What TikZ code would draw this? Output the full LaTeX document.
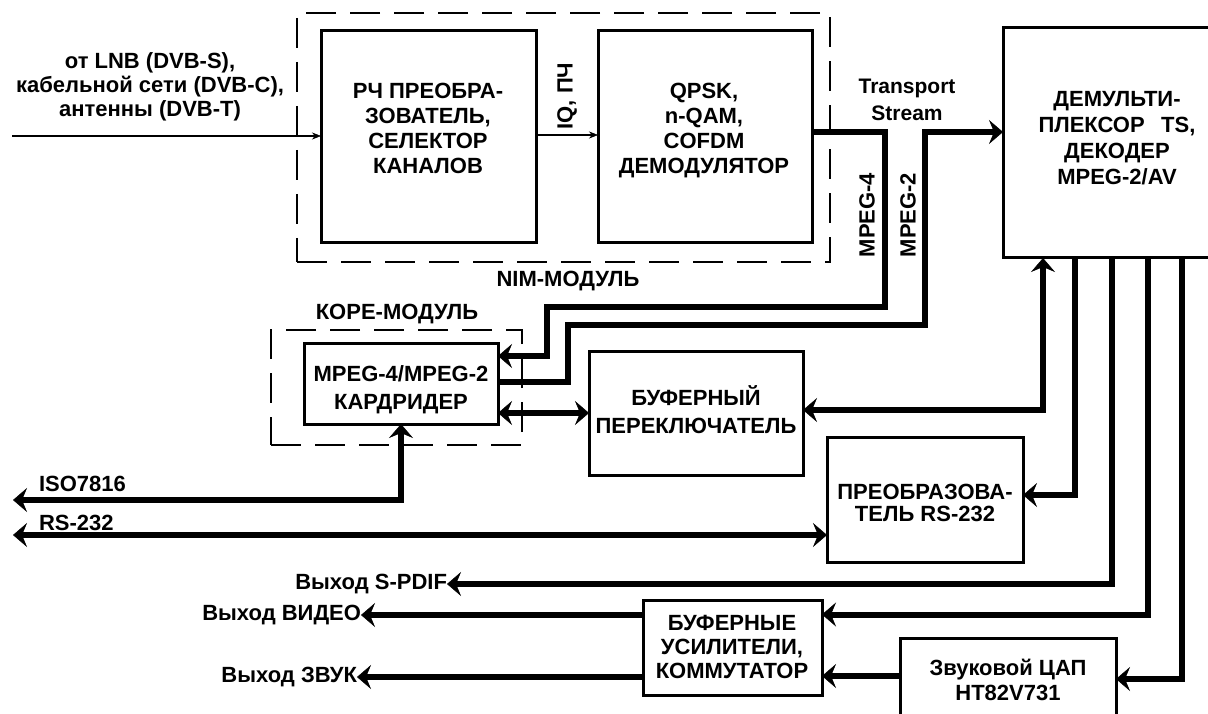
\documentclass[tikz,border=0pt]{standalone}
\usepackage{fontspec}
\setmainfont{Liberation Sans}
\usetikzlibrary{arrows.meta,calc}
\tikzset{
  bt/.tip={Stealth[length=14pt,width=24pt,inset=5pt,line width=0.5pt]},
  st/.tip={Stealth[length=9pt,width=7pt,line width=0.5pt]}
}
\begin{document}
\begin{tikzpicture}[x=1pt,y=-1pt,
  every node/.style={font=\bfseries\fontsize{22}{25}\selectfont, inner sep=0pt, outer sep=0pt},
  box/.style={draw, line width=3pt, anchor=center},
  dbox/.style={draw, line width=1.5pt, dash pattern=on 30pt off 14pt},
  txt/.style={align=center},
  big/.style={line width=6pt},
  thn/.style={line width=2pt}
]
\useasboundingbox (0,0) rectangle (1208,714);
\clip (0,0) rectangle (1208,714);
\fill[white] (0,0) rectangle (1208,714);

% dashed module frames
\node[dbox, minimum width=533pt, minimum height=249pt] (nim) at (563.5,137.5) {};
\node[dbox, minimum width=251pt, minimum height=115pt] (core) at (396.5,387.5) {};

% boxes
\node[box, minimum width=215pt, minimum height=212pt] (rf) at (428.5,137) {};
\node[box, minimum width=214pt, minimum height=212pt] (demod) at (705,137) {};
\node[box, minimum width=230pt, minimum height=230pt] (demux) at (1118,143) {};
\node[box, minimum width=194pt, minimum height=81pt] (card) at (401,383.5) {};
\node[box, minimum width=214pt, minimum height=124pt] (sw) at (696,413) {};
\node[box, minimum width=196pt, minimum height=125pt] (conv) at (925,499.5) {};
\node[box, minimum width=179pt, minimum height=95pt] (ba) at (732.5,647.5) {};
\node[box, minimum width=216pt, minimum height=92pt] (dac) at (1008,684) {};

% box texts
\node[txt] (rft) at (428,128) {РЧ ПРЕОБРА-\\ЗОВАТЕЛЬ,\\СЕЛЕКТОР\\КАНАЛОВ};
\node[txt] (demodt) at (704,131) {QPSK,\\n-QAM,\\COFDM\\ДЕМОДУЛЯТОР};
\node[txt, font=\bfseries\fontsize{22}{26}\selectfont] (demuxt) at (1117,138) {ДЕМУЛЬТИ-\\ПЛЕКСОР\hspace{0.75em}TS,\\ДЕКОДЕР\\MPEG-2/AV};
\node[txt, font=\bfseries\fontsize{22}{28}\selectfont] (cardt) at (401,390) {MPEG-4/MPEG-2\\КАРДРИДЕР};
\node[txt, font=\bfseries\fontsize{22}{28}\selectfont] (swt) at (696,410) {БУФЕРНЫЙ\\ПЕРЕКЛЮЧАТЕЛЬ};
\node[txt, font=\bfseries\fontsize{22}{22}\selectfont] (convt) at (925,503) {ПРЕОБРАЗОВА-\\ТЕЛЬ RS-232};
\node[txt, font=\bfseries\fontsize{22}{24}\selectfont] (bat) at (732,647) {БУФЕРНЫЕ\\УСИЛИТЕЛИ,\\КОММУТАТОР};
\node[txt] (dact) at (1008,680) {Звуковой ЦАП\\HT82V731};

% labels
\node[txt, font=\bfseries\fontsize{22}{24}\selectfont] (input) at (150,87) {от LNB (DVB-S),\\кабельной сети (DVB-C),\\антенны (DVB-T)};
\node[rotate=90] (iq) at (567,96) {IQ, ПЧ};
\node[txt, font=\bfseries\fontsize{21}{27}\selectfont] (ts) at (907,100) {Transport\\Stream};
\node[rotate=90] (m4) at (867,215) {MPEG-4};
\node[rotate=90] (m2) at (908,215) {MPEG-2};
\node (nimlbl) at (568,281) {NIM-МОДУЛЬ};
\node (corelbl) at (397,314) {КОРЕ-МОДУЛЬ};
\node[anchor=base west] (iso) at (39,491) {ISO7816};
\node[anchor=base west] (rs) at (39,530) {RS-232};
\node[anchor=east] (spdif) at (447,584) {Выход S-PDIF};
\node[anchor=east] (video) at (361,615) {Выход ВИДЕО};
\node[anchor=east] (sound) at (357,677) {Выход ЗВУК};

\coordinate (inL) at (12,136);
\coordinate (isoL) at (13,500);
\coordinate (rsL) at (13,535);

% thin connectors
\draw[thn,-{st}] (inL) -- (rf.west |- inL);
\draw[thn,-{st}] (rf.east |- 0,135) -- (demod.west |- 0,135);

% transport stream paths
\draw[big,-{bt}] ([yshift=5pt]demod.east) -| (885,307) -| (547,356) -- (card.east |- 0,356);
\draw[big,-{bt}] (card.east |- 0,382) -| (568,325) -| (925,132) -- (demux.west |- 0,132);

% card reader links
\draw[big,{bt}-{bt}] (card.east |- sw.west) -- (sw.west);
\draw[big,{bt}-{bt}] (isoL) -| (card.south);
\draw[big,{bt}-{bt}] (rsL) -- (conv.west |- rsL);

% demux outputs
\draw[big,{bt}-{bt}] ([yshift=3pt]sw.east) -| (demux.south -| 1043,0);
\draw[big,-{bt}] (demux.south -| 1075,0) |- ([yshift=4.5pt]conv.east);
\draw[big,-{bt}] (demux.south -| 1112,0) |- (spdif.east);
\draw[big,-{bt}] (demux.south -| 1148,0) |- ([yshift=33pt]ba.east);
\draw[big,-{bt}] (demux.south -| 1182,0) |- ([yshift=5pt]dac.east);

% audio path and outputs
\draw[big,-{bt}] (dac.west |- 0,676) -- (ba.east |- 0,676);
\draw[big,-{bt}] (ba.west |- video.east) -- (video.east);
\draw[big,-{bt}] (ba.west |- sound.east) -- (sound.east);
\end{tikzpicture}
\end{document}
